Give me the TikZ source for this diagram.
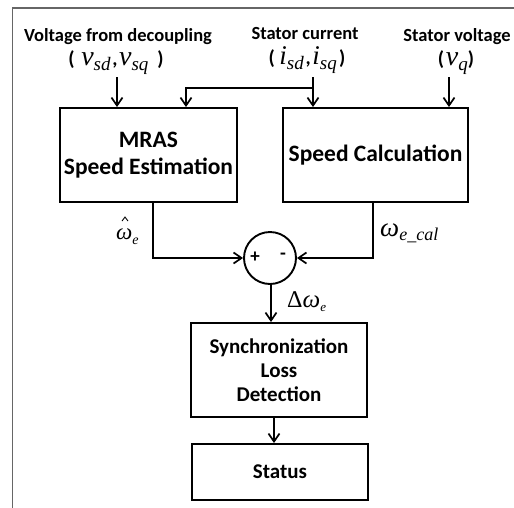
\documentclass[tikz,border=0pt]{standalone}
\usepackage{fontspec}
\setmainfont{Carlito}
\newfontfamily\tms{Liberation Serif}
\usetikzlibrary{arrows.meta,calc}

% italic Times-like symbols and their subscripts
\newcommand{\mvar}[2]{{\tms\itshape\fontsize{#1}{#1}\selectfont #2}}
\newcommand{\msub}[3][5pt]{\raisebox{-#1}{\tms\itshape\fontsize{#2}{#2}\selectfont #3}}
\newcommand{\bpar}[1]{{\bfseries\fontsize{20}{22}\selectfont #1}}

\begin{document}
\begin{tikzpicture}[x=1pt,y=-1pt,
  lbl/.style={font=\bfseries\fontsize{18.5}{20}\selectfont, inner sep=0, anchor=base,
              text height=12pt, text depth=4pt},
  sym/.style={inner sep=0, anchor=base, text height=13pt, text depth=6pt},
  blk/.style={draw, line width=1.9pt, font=\bfseries\fontsize{23.5}{28}\selectfont,
              align=center, inner sep=0},
  smallblk/.style={blk, font=\bfseries\fontsize{21}{26}\selectfont},
  sign/.style={font=\bfseries\fontsize{19}{19}\selectfont, inner sep=0},
  arr/.style={line width=1.9pt, -{Straight Barb[length=8pt,width=11pt,line width=1.7pt]}},
  wire/.style={line width=1.9pt}]
\useasboundingbox (0,0) rectangle (514,507);

% outer frame (only its top and left sides fall inside the picture)
\draw[line width=1.3pt, black!60] (12.5,520) -- (12.5,8) -- (520,8);

% input labels
\node[lbl] (vdtxt) at (118,41) {Voltage from decoupling};
\node[lbl] (sctxt) at (305,39.5) {Stator current};
\node[lbl] (svtxt) at (457,41) {Stator voltage};

\node[sym] (vdsym) at (116,65.5) {\bpar{(}\ \ \ \mvar{28}{v}\msub{19}{sd}\,\bpar{,}\,\mvar{28}{v}\msub{19}{sq}\ \ \ \ \bpar{)}};
\node[sym] (scsym) at (307,64) {\bpar{(}\ \ \mvar{27}{i}\msub{19}{sd}\,\bpar{,}\,\mvar{27}{i}\msub{19}{sq}\ \bpar{)}};
\node[sym] (svsym) at (456,65) {\bpar{(}\,\mvar{28}{v}\msub{19}{q}\bpar{)}};

% blocks
\node[blk, minimum width=177pt, minimum height=94pt] (mras) at (148.5,155)
  {MRAS\\[-1pt]Speed Estimation};
\node[blk, minimum width=185pt, minimum height=94pt] (calc) at (375.5,155)
  {Speed Calculation};
\node[draw, circle, line width=1.9pt, minimum size=52pt, inner sep=0] (sum) at (270,258) {};
\node[sign] (plus) at (255,257) {+};
\node[sign] (minus) at (283,256) {-};
\node[smallblk, minimum width=176pt, minimum height=94pt] (sync) at (279,370)
  {Synchronization\\[-2pt]Loss\\[-2pt]Detection};
\node[smallblk, minimum width=176pt, minimum height=56pt] (status) at (280,472)
  {Status};

% input connectors
\coordinate (vd) at (117,77);
\coordinate (sc) at (313,77);
\coordinate (br) at (313,88);
\coordinate (mi) at (186,88);
\coordinate (sv) at (449,77);
\draw[arr] (vd) -- (vd |- mras.north);
\draw[arr] (sc) -- (sc |- calc.north);
\draw[arr] (br) -- (mi) -- (mi |- mras.north);
\draw[arr] (sv) -- (sv |- calc.north);

% speed signals into the comparator
\draw[arr] ([xshift=4.5pt]mras.south) |- (sum.west);
\draw[arr] ([xshift=-2.5pt]calc.south) |- (sum.east);

% error signal and detection chain
\draw[arr] ([xshift=1pt]sum.south) -- ([xshift=1pt]sum.south |- sync.north);
\draw[arr] ([xshift=-5pt]sync.south) -- ([xshift=-5pt]sync.south |- status.north);

% signal labels
\node[sym, anchor=base west] (west) at (116,239)
  {\mvar{23}{ω}\msub[5pt]{14}{e}};
% circumflex over the estimated speed (explicit pt offsets point upwards)
\draw[line width=0.9pt, line join=miter]
  ([shift={(6pt,18pt)}]west.base west) -- ++(3pt,4pt) -- ++(3pt,-4pt);
\node[sym, anchor=base west] (wcal) at (380,236)
  {\mvar{27}{ω}\msub[4pt]{18}{e\_cal}};
\node[sym, anchor=base west] (dw) at (287,307)
  {{\tms\fontsize{24}{24}\selectfont Δ}\mvar{25}{ω}\msub[4pt]{13}{e}};
\end{tikzpicture}
\end{document}
